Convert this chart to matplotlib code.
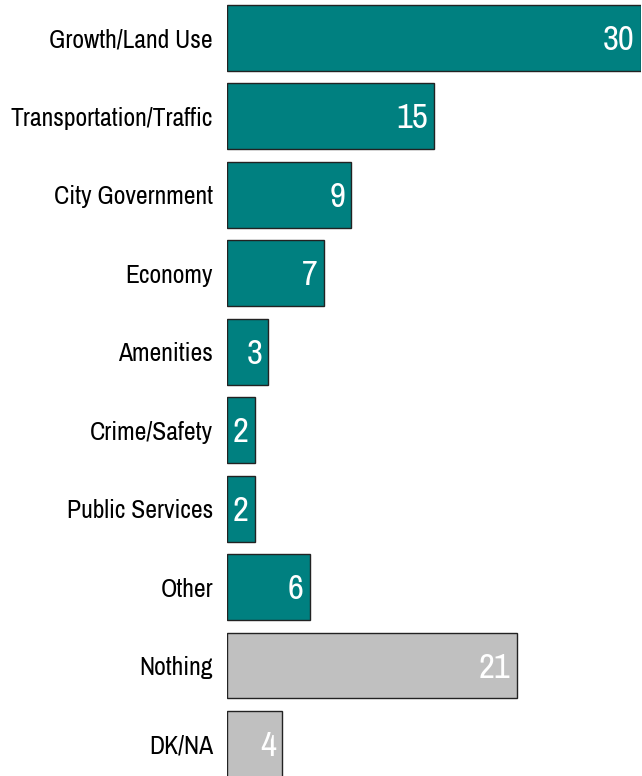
import matplotlib
matplotlib.use("Agg")
import matplotlib.pyplot as plt

categories = ["Growth/Land Use", "Transportation/Traffic", "City Government", "Economy",
              "Amenities", "Crime/Safety", "Public Services", "Other", "Nothing", "DK/NA"]
values = [30, 15, 9, 7, 3, 2, 2, 6, 21, 4]
colors = ["#008080"] * 8 + ["#C0C0C0"] * 2

# narrow face to get close to the squeezed Arial of the original
plt.rcParams["font.family"] = ["Archivo Narrow", "Liberation Sans", "DejaVu Sans"]

fig = plt.figure(figsize=(6.42, 7.76), dpi=100)
ax = fig.add_axes([227 / 642, 0, 414 / 642, 1])

pos = list(range(len(values)))
ax.barh(pos, values, height=0.84, color=colors, edgecolor="#222222", linewidth=1)

for y, v in zip(pos, values):
    ax.annotate(str(v), (v, y), xytext=(-6, 1), textcoords="offset pixels",
                ha="right", va="center_baseline", color="white", fontsize=25)

ax.set_xlim(0, 30)
ax.set_ylim(9.408, -0.484)
ax.set_yticks(pos)
ax.set_yticklabels(categories, fontsize=18.5)
ax.tick_params(axis="y", length=0, pad=10)
ax.set_xticks([])
for s in ax.spines.values():
    s.set_visible(False)

fig.savefig("out.png", dpi=100)
